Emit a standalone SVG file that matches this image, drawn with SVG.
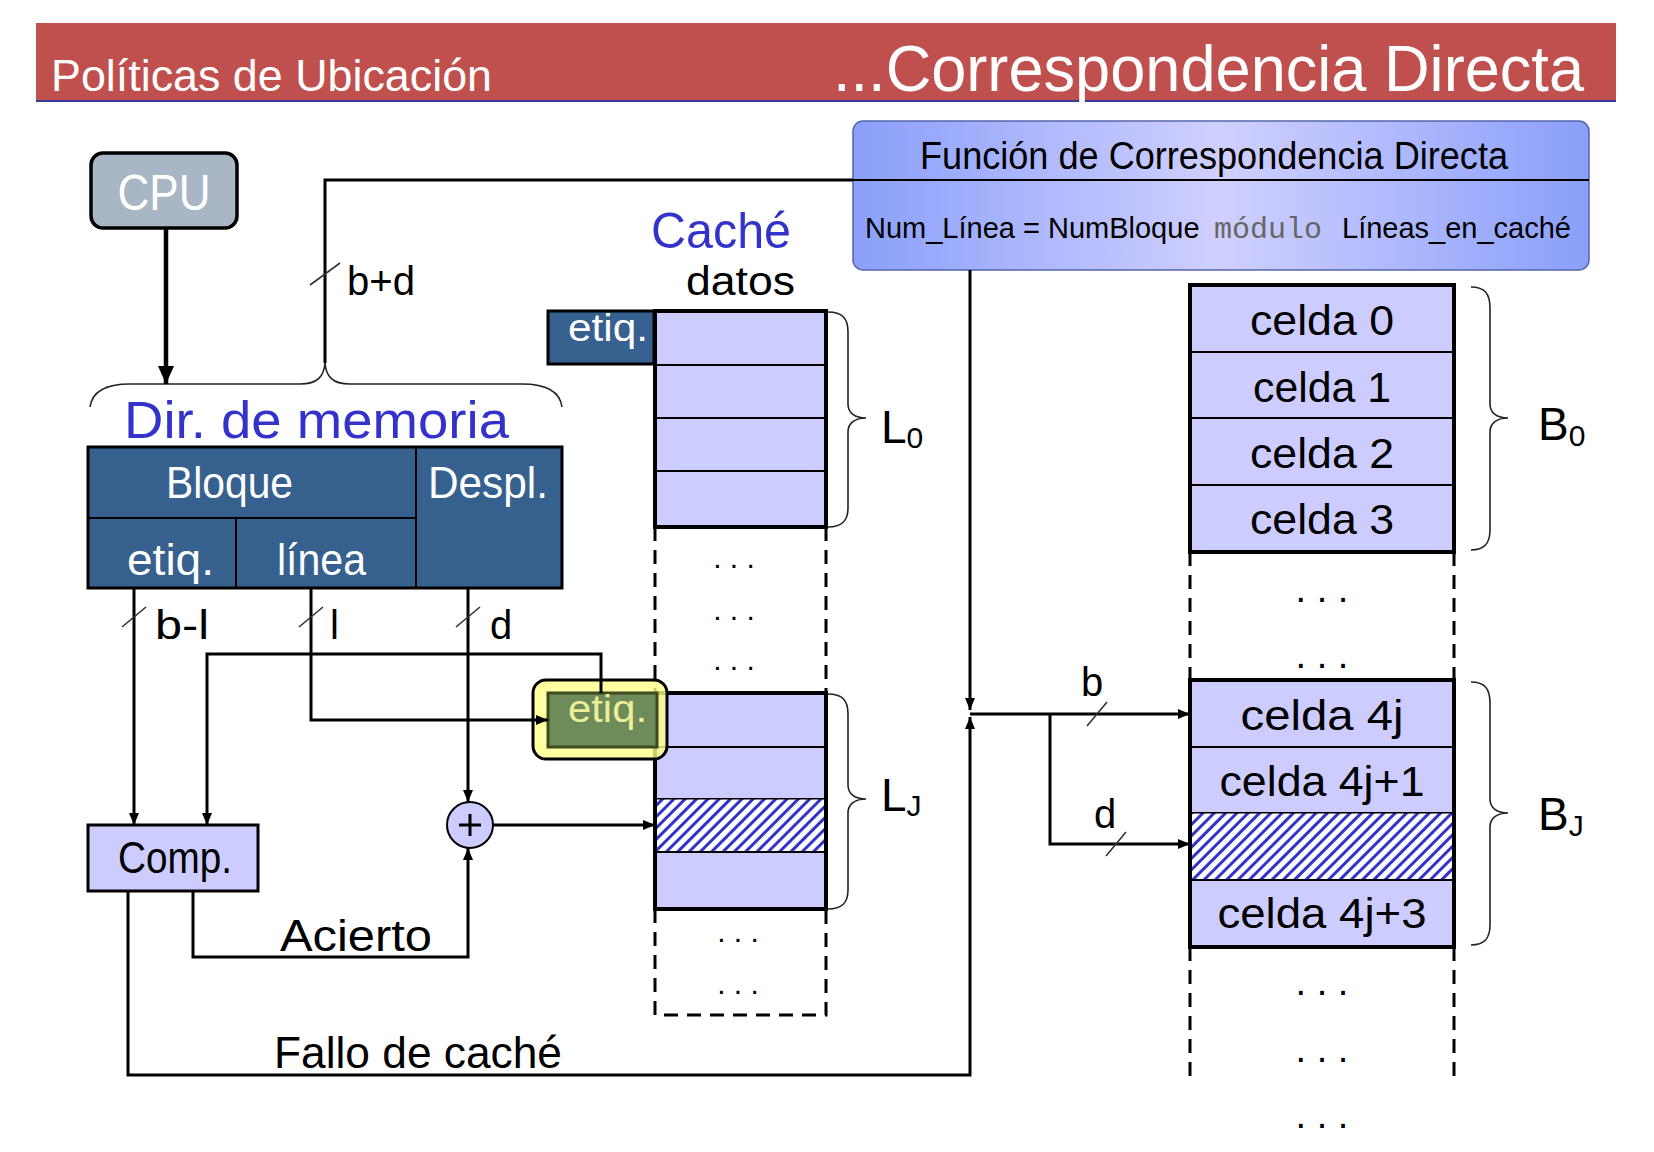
<svg xmlns="http://www.w3.org/2000/svg" width="1654" height="1152" viewBox="0 0 1654 1152">
<style>
text{font-family:"Liberation Sans","DejaVu Sans",sans-serif;}
.w{fill:#ffffff;}
.k{fill:#000000;}
.b{fill:#3333cc;}
.ln{fill:none;stroke:#000;stroke-width:3;}
.slash{stroke:#333;stroke-width:1.6;fill:none;}
.brace{fill:none;stroke:#222;stroke-width:1.6;}
.cell{fill:#ccccff;stroke:#000;stroke-width:2;}
.outer{fill:none;stroke:#000;stroke-width:4;}
.dash{fill:none;stroke:#000;stroke-width:3;stroke-dasharray:14 9;}
.dblue{fill:#36618f;stroke:#000;stroke-width:3;}
</style>
<defs>
<marker id="ah" viewBox="0 0 12 10" refX="12" refY="5" markerWidth="12" markerHeight="10" markerUnits="userSpaceOnUse" orient="auto"><path d="M0,0 L12,5 L0,10 z" fill="#000"/></marker>
<marker id="ahb" viewBox="0 0 18 16" refX="18" refY="8" markerWidth="18" markerHeight="16" markerUnits="userSpaceOnUse" orient="auto"><path d="M0,0 L18,8 L0,16 z" fill="#000"/></marker>
<pattern id="hatch" width="8" height="8" patternUnits="userSpaceOnUse" patternTransform="rotate(45)"><rect width="8" height="8" fill="#fff"/><rect width="3" height="8" fill="#3333cc"/></pattern>
<linearGradient id="fg" x1="0" y1="0" x2="1" y2="0"><stop offset="0" stop-color="#8a9ffa"/><stop offset="0.5" stop-color="#d0d0ff"/><stop offset="1" stop-color="#8a9ffa"/></linearGradient>
</defs>

<g id="header">
<rect x="36" y="23" width="1580" height="78" fill="#c0504d"/>
<line x1="36" y1="101" x2="1616" y2="101" stroke="#3b3b9a" stroke-width="2"/>
<text x="51" y="91" font-size="44" class="w" textLength="441" lengthAdjust="spacingAndGlyphs">Políticas de Ubicación</text>
<text x="833" y="91" font-size="64" class="w" textLength="751" lengthAdjust="spacingAndGlyphs">...Correspondencia Directa</text>
</g>

<g id="funcion">
<rect x="853" y="121" width="736" height="149" rx="10" fill="url(#fg)" stroke="#5566aa" stroke-width="1.5"/>
<line x1="853" y1="180" x2="1589" y2="180" stroke="#000" stroke-width="2"/>
<text x="920" y="169" font-size="38" class="k" textLength="588" lengthAdjust="spacingAndGlyphs">Función de Correspondencia Directa</text>
<text y="238" class="k" font-size="29"><tspan x="865">Num_Línea = NumBloque</tspan><tspan x="1214" font-size="30" fill="#666" style="font-family:'Liberation Mono',monospace">módulo</tspan><tspan x="1342">Líneas_en_caché</tspan></text>
</g>

<g id="cpu">
<rect x="91" y="153" width="146" height="75" rx="12" fill="#a9b6c5" stroke="#000" stroke-width="3.5"/>
<text x="164" y="210" font-size="50" class="w" text-anchor="middle" textLength="93" lengthAdjust="spacingAndGlyphs">CPU</text>
</g>

<g id="dir-memoria">
<path class="brace" d="M90,407 C92,392 104,384 130,384 L300,384 C318,384 324,376 325,363 C326,376 332,384 350,384 L522,384 C548,384 560,392 562,407"/>
<text x="124" y="438" font-size="52" class="b" textLength="385" lengthAdjust="spacingAndGlyphs">Dir. de memoria</text>
<rect x="88" y="447" width="474" height="141" class="dblue"/>
<line x1="88" y1="518" x2="416" y2="518" stroke="#000" stroke-width="2"/>
<line x1="416" y1="447" x2="416" y2="588" stroke="#000" stroke-width="2"/>
<line x1="236" y1="518" x2="236" y2="588" stroke="#000" stroke-width="2"/>
<text x="166" y="498" font-size="44" class="w" textLength="127" lengthAdjust="spacingAndGlyphs">Bloque</text>
<text x="428" y="498" font-size="44" class="w" textLength="120" lengthAdjust="spacingAndGlyphs">Despl.</text>
<text x="127" y="575" font-size="44" class="w" textLength="87" lengthAdjust="spacingAndGlyphs">etiq.</text>
<text x="277" y="575" font-size="44" class="w" textLength="89" lengthAdjust="spacingAndGlyphs">línea</text>
</g>

<g id="cache">
<text x="651" y="248" font-size="50" class="b" textLength="140" lengthAdjust="spacingAndGlyphs">Caché</text>
<text x="686" y="295" font-size="40" class="k" textLength="109" lengthAdjust="spacingAndGlyphs">datos</text>
<rect x="548" y="311" width="106" height="53" class="dblue"/>
<text x="568" y="341" font-size="38" class="w" textLength="80" lengthAdjust="spacingAndGlyphs">etiq.</text>
<rect x="655" y="311" width="171" height="54" class="cell"/>
<rect x="655" y="365" width="171" height="53" class="cell"/>
<rect x="655" y="418" width="171" height="53" class="cell"/>
<rect x="655" y="471" width="171" height="56" class="cell"/>
<rect x="655" y="311" width="171" height="216" class="outer" stroke-width="3.5"/>
<path class="brace" d="M828,312 C842,312 848,318 848,332 L848,404 C848,413 855,418 866,418 C855,418 848,423 848,432 L848,508 C848,521 842,527 828,527"/>
<text x="881" y="443" font-size="46" class="k">L<tspan font-size="30" dy="5">0</tspan></text>
<path class="dash" d="M655,527 V693 M826,527 V693"/>
<text x="734" y="568" font-size="30" class="k" text-anchor="middle">. . .</text>
<text x="734" y="620" font-size="30" class="k" text-anchor="middle">. . .</text>
<text x="734" y="670" font-size="30" class="k" text-anchor="middle">. . .</text>
<rect x="655" y="693" width="171" height="54" class="cell"/>
<rect x="655" y="747" width="171" height="52" class="cell"/>
<rect x="655" y="799" width="171" height="53" fill="url(#hatch)" stroke="#000" stroke-width="1"/>
<rect x="655" y="852" width="171" height="57" class="cell"/>
<rect x="655" y="693" width="171" height="216" class="outer" stroke-width="3.5"/>
<path class="brace" d="M828,694 C842,694 848,700 848,714 L848,785 C848,794 855,799 866,799 C855,799 848,804 848,813 L848,890 C848,903 842,909 828,909"/>
<text x="881" y="811" font-size="46" class="k">L<tspan font-size="30" dy="5">J</tspan></text>
<path class="dash" d="M655,909 V1015 H826 V909"/>
<text x="738" y="942" font-size="30" class="k" text-anchor="middle">. . .</text>
<text x="738" y="994" font-size="30" class="k" text-anchor="middle">. . .</text>
</g>

<g id="etiq-sel">
<rect x="533" y="680" width="134" height="79" rx="13" fill="#ffff88" fill-opacity="0.8" stroke="#000" stroke-width="3"/>
<rect x="548" y="693" width="109" height="54" fill="#6e8c5a" stroke="#3d4a1e" stroke-width="3"/>
<text x="568" y="722" font-size="38" fill="#eeee99" textLength="79" lengthAdjust="spacingAndGlyphs">etiq.</text>
</g>

<g id="comp">
<rect x="88" y="825" width="170" height="66" fill="#ccccff" stroke="#000" stroke-width="3"/>
<text x="175" y="873" font-size="44" class="k" text-anchor="middle" textLength="114" lengthAdjust="spacingAndGlyphs">Comp.</text>
</g>

<g id="sumador">
<circle cx="470" cy="825" r="23" fill="#ccccff" stroke="#000" stroke-width="2"/>
<path d="M459,825 H481 M470,814 V836" stroke="#000" stroke-width="3"/>
</g>

<g id="memoria">
<rect x="1190" y="285" width="264" height="67" class="cell"/>
<rect x="1190" y="352" width="264" height="66" class="cell"/>
<rect x="1190" y="418" width="264" height="67" class="cell"/>
<rect x="1190" y="485" width="264" height="67" class="cell"/>
<rect x="1190" y="285" width="264" height="267" class="outer"/>
<text x="1322" y="335" font-size="42" class="k" text-anchor="middle" textLength="144" lengthAdjust="spacingAndGlyphs">celda 0</text>
<text x="1322" y="402" font-size="42" class="k" text-anchor="middle" textLength="138" lengthAdjust="spacingAndGlyphs">celda 1</text>
<text x="1322" y="468" font-size="42" class="k" text-anchor="middle" textLength="144" lengthAdjust="spacingAndGlyphs">celda 2</text>
<text x="1322" y="534" font-size="42" class="k" text-anchor="middle" textLength="144" lengthAdjust="spacingAndGlyphs">celda 3</text>
<path class="brace" d="M1471,287 C1485,287 1490,294 1490,308 L1490,404 C1490,413 1497,418 1508,418 C1497,418 1490,423 1490,432 L1490,530 C1490,543 1485,550 1471,550"/>
<text x="1538" y="440" font-size="46" class="k">B<tspan font-size="30" dy="6">0</tspan></text>
<path class="dash" d="M1190,552 V680 M1454,552 V680"/>
<text x="1322" y="602" font-size="38" class="k" text-anchor="middle">. . .</text>
<text x="1322" y="668" font-size="38" class="k" text-anchor="middle">. . .</text>
<rect x="1190" y="680" width="264" height="67" class="cell"/>
<rect x="1190" y="747" width="264" height="66" class="cell"/>
<rect x="1190" y="813" width="264" height="67" fill="url(#hatch)" stroke="#000" stroke-width="1"/>
<rect x="1190" y="880" width="264" height="67" class="cell"/>
<rect x="1190" y="680" width="264" height="267" class="outer"/>
<text x="1322" y="730" font-size="42" class="k" text-anchor="middle" textLength="163" lengthAdjust="spacingAndGlyphs">celda 4j</text>
<text x="1322" y="796" font-size="42" class="k" text-anchor="middle" textLength="205" lengthAdjust="spacingAndGlyphs">celda 4j+1</text>
<text x="1322" y="928" font-size="42" class="k" text-anchor="middle" textLength="209" lengthAdjust="spacingAndGlyphs">celda 4j+3</text>
<path class="brace" d="M1471,682 C1485,682 1490,689 1490,703 L1490,799 C1490,808 1497,813 1508,813 C1497,813 1490,818 1490,827 L1490,925 C1490,938 1485,945 1471,945"/>
<text x="1538" y="830" font-size="46" class="k">B<tspan font-size="30" dy="6">J</tspan></text>
<path class="dash" d="M1190,947 V1076 M1454,947 V1076"/>
<text x="1322" y="995" font-size="38" class="k" text-anchor="middle">. . .</text>
<text x="1322" y="1062" font-size="38" class="k" text-anchor="middle">. . .</text>
<text x="1322" y="1128" font-size="38" class="k" text-anchor="middle">. . .</text>
</g>

<g id="connectors">
<line x1="166" y1="227" x2="166" y2="384" stroke="#000" stroke-width="4.5" marker-end="url(#ahb)"/>
<path class="ln" d="M325,363 V180 H853"/>
<path class="slash" d="M310,285 L340,263"/>
<text x="347" y="295" font-size="40" class="k" textLength="68" lengthAdjust="spacingAndGlyphs">b+d</text>
<path class="ln" d="M134,588 V825" marker-end="url(#ah)"/>
<path class="ln" d="M311,588 V720 H548" marker-end="url(#ah)"/>
<path class="ln" d="M468,588 V802" marker-end="url(#ah)"/>
<path class="slash" d="M122,627 L146,607 M299,627 L323,607 M456,627 L480,607"/>
<text x="155" y="639" font-size="40" class="k" textLength="54" lengthAdjust="spacingAndGlyphs">b-l</text>
<text x="330" y="639" font-size="40" class="k">l</text>
<text x="490" y="639" font-size="40" class="k">d</text>
<path class="ln" d="M601,693 V654 H207 V825" marker-end="url(#ah)"/>
<path class="ln" d="M493,825 H655" marker-end="url(#ah)"/>
<path class="ln" d="M193,891 V957 H468 V848" marker-end="url(#ah)"/>
<text x="280" y="951" font-size="44" class="k" textLength="152" lengthAdjust="spacingAndGlyphs">Acierto</text>
<path class="ln" d="M128,891 V1075 H970 V717" marker-end="url(#ah)"/>
<text x="274" y="1068" font-size="44" class="k" textLength="288" lengthAdjust="spacingAndGlyphs">Fallo de caché</text>
<path class="ln" d="M970,270 V710" marker-end="url(#ah)"/>
<path class="ln" d="M970,714 H1190" marker-end="url(#ah)"/>
<path class="ln" d="M1050,714 V844 H1190" marker-end="url(#ah)"/>
<path class="slash" d="M1087,726 L1107,702 M1106,856 L1126,832"/>
<text x="1081" y="696" font-size="40" class="k">b</text>
<text x="1094" y="828" font-size="40" class="k">d</text>
</g>
</svg>
